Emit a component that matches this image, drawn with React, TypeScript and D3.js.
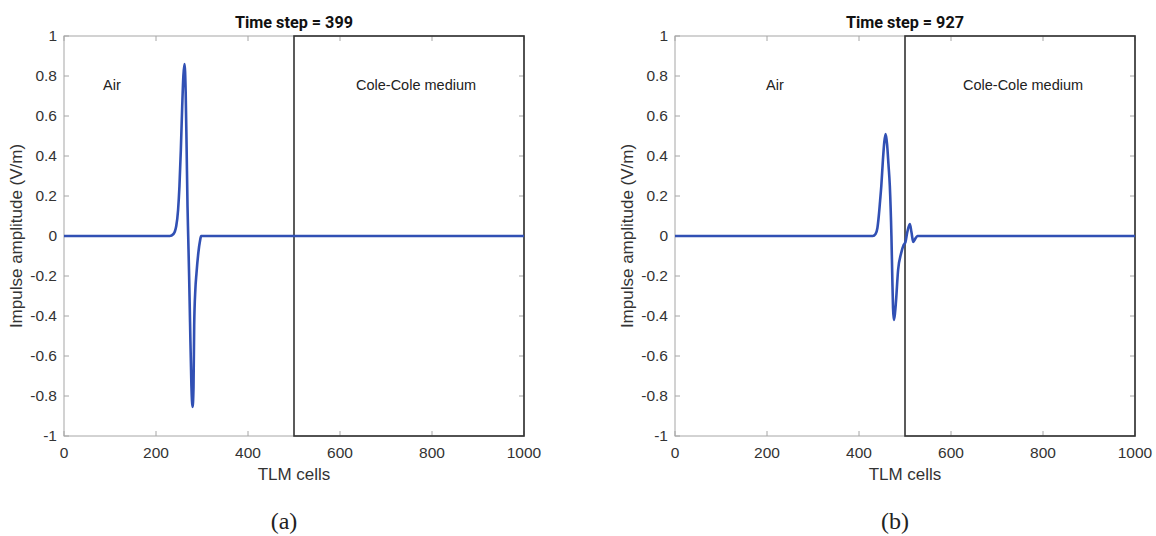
import React from "react";
import * as d3 from "d3";

const xTicks = [0, 200, 400, 600, 800, 1000];
const yTicks = [-1, -0.8, -0.6, -0.4, -0.2, 0, 0.2, 0.4, 0.6, 0.8, 1];
const yTickLabels = ["-1", "-0.8", "-0.6", "-0.4", "-0.2", "0", "0.2", "0.4", "0.6", "0.8", "1"];

const cellsA = [0, 230, 238, 244, 248, 251, 254, 257, 259.5, 262, 264.5, 266.5, 268.5, 270, 272, 274, 277, 279.5, 281.5, 283, 285.5, 288, 292, 296, 298, 1000];
const valuesA = [0, 0, 0.01, 0.05, 0.13, 0.25, 0.43, 0.65, 0.8, 0.86, 0.72, 0.45, 0.15, 0, -0.2, -0.43, -0.75, -0.855, -0.76, -0.45, -0.27, -0.187, -0.085, -0.02, 0, 0];

const cellsB = [0, 430, 436, 440, 443, 446, 448.5, 452, 455, 458, 461, 464, 467, 470.5, 472.5, 474, 475.7, 477.5, 480, 485, 491.5, 497, 501, 505, 510.5, 514, 518, 522, 527, 1000];
const valuesB = [0, 0, 0.01, 0.04, 0.1, 0.18, 0.25, 0.38, 0.47, 0.51, 0.46, 0.36, 0.25, 0, -0.22, -0.36, -0.42, -0.4, -0.34, -0.17, -0.087, -0.045, -0.03, 0.02, 0.06, 0.02, -0.03, -0.015, 0, 0];

const titles = ["Time step = 399", "Time step = 927"];
const panelLabels = ["(a)", "(b)"];
const mediumBoundary = 500;

const SANS = "'Liberation Sans', Arial, Helvetica, sans-serif";
const NARROW = "'Liberation Sans Narrow', 'Roboto', 'Liberation Sans', sans-serif";

function Panel({ x0, cells, values, title, label, airX, mediumX }) {
  const x = d3.scaleLinear().domain([0, 1000]).range([x0, x0 + 460]);
  const y = d3.scaleLinear().domain([-1, 1]).range([436, 36]);
  const pts = cells.map((c, i) => [c, values[i]]);
  const line = d3
    .line()
    .x((d) => x(d[0]))
    .y((d) => y(d[1]))
    .curve(d3.curveMonotoneX);
  const axisColor = "#a6a6a6";
  const tl = 5;
  const cx = x(500);
  return (
    <g>
      <rect x={x(0)} y={y(1)} width={x(1000) - x(0)} height={y(-1) - y(1)} fill="white" stroke={axisColor} strokeWidth={1} />
      {xTicks.map((t) => (
        <g key={"xt" + t}>
          <line x1={x(t)} x2={x(t)} y1={y(-1)} y2={y(-1) - tl} stroke={axisColor} />
          <line x1={x(t)} x2={x(t)} y1={y(1)} y2={y(1) + tl} stroke={axisColor} />
          <text x={x(t)} y={458} textAnchor="middle" fontFamily={SANS} fontSize={15.5} fill="#333">
            {t}
          </text>
        </g>
      ))}
      {yTicks.map((t, i) => (
        <g key={"yt" + t}>
          <line x1={x(0)} x2={x(0) + tl} y1={y(t)} y2={y(t)} stroke={axisColor} />
          <line x1={x(1000)} x2={x(1000) - tl} y1={y(t)} y2={y(t)} stroke={axisColor} />
          <text x={x(0) - 7} y={y(t) + 5} textAnchor="end" fontFamily={SANS} fontSize={15.5} fill="#333">
            {yTickLabels[i]}
          </text>
        </g>
      ))}
      <rect x={x(mediumBoundary)} y={y(1)} width={x(1000) - x(mediumBoundary)} height={y(-1) - y(1)} fill="none" stroke="#333" strokeWidth={1.6} />
      <path d={line(pts)} fill="none" stroke="#3150b4" strokeWidth={2.6} strokeLinejoin="round" />
      <text x={airX} y={90} fontFamily={SANS} fontSize={14.5} fill="#222">Air</text>
      <text x={mediumX} y={90} fontFamily={SANS} fontSize={14.5} fill="#222">Cole-Cole medium</text>
      <text
        x={cx}
        y={28}
        textAnchor="middle"
        fontFamily={NARROW}
        fontWeight="bold"
        fontSize={17}
        textLength={118}
        lengthAdjust="spacingAndGlyphs"
        fill="#111"
      >
        {title}
      </text>
      <text x={cx} y={480} textAnchor="middle" fontFamily={SANS} fontSize={17} fill="#333">
        TLM cells
      </text>
      <text
        transform={`translate(${x0 - 42},${y(0)}) rotate(-90)`}
        textAnchor="middle"
        fontFamily={SANS}
        fontSize={17}
        fill="#333"
      >
        Impulse amplitude (V/m)
      </text>
      <text x={cx - 10} y={529} textAnchor="middle" fontFamily="'Liberation Serif', 'DejaVu Serif', serif" fontSize={24} fill="#222">
        {label}
      </text>
    </g>
  );
}

export default function App() {
  return (
    <svg width={1156} height={536} style={{ position: "absolute", left: 0, top: 0, background: "white" }}>
      <rect width={1156} height={536} fill="white" />
      <Panel x0={64} cells={cellsA} values={valuesA} title={titles[0]} label={panelLabels[0]} airX={103} mediumX={356} />
      <Panel x0={675} cells={cellsB} values={valuesB} title={titles[1]} label={panelLabels[1]} airX={766} mediumX={963} />
    </svg>
  );
}
